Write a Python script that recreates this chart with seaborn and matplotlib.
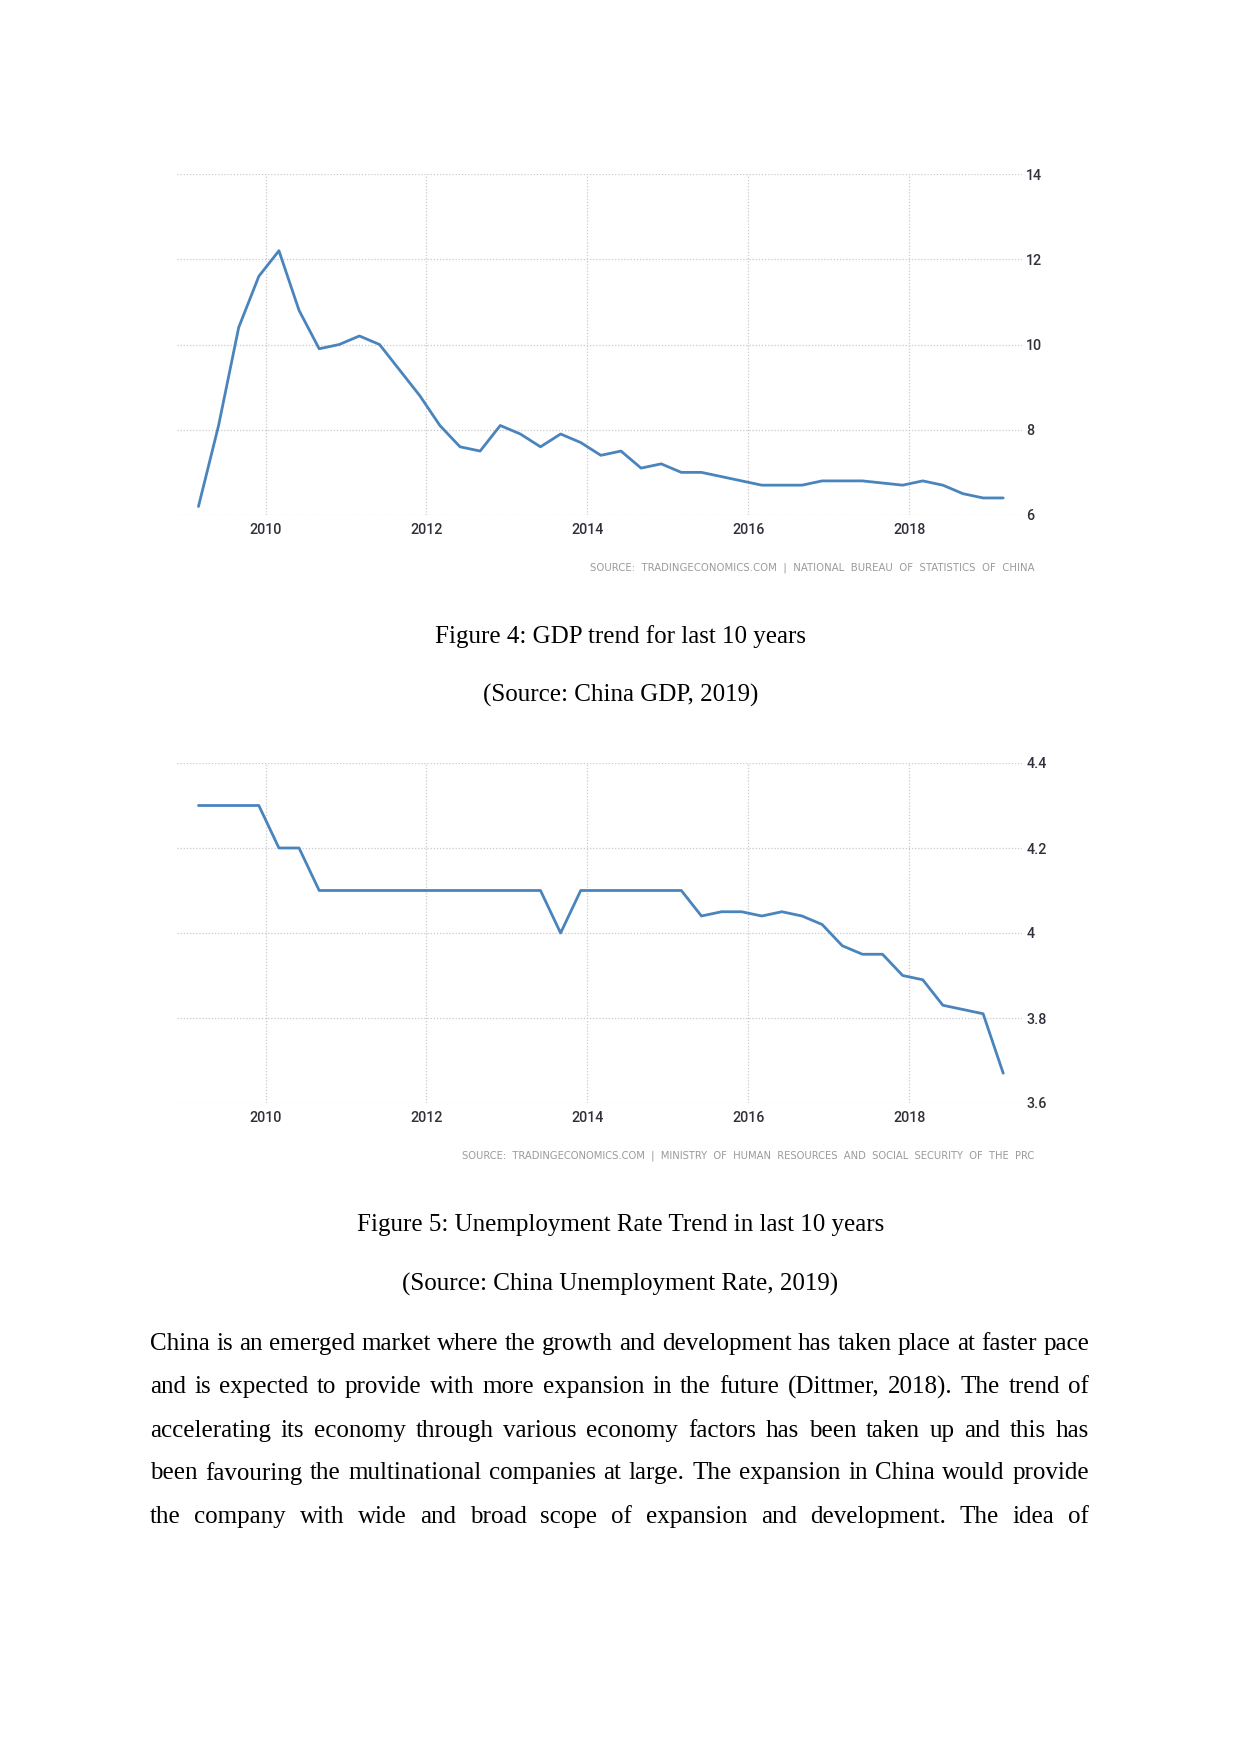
import numpy as np
import pandas as pd
import matplotlib
matplotlib.use("Agg")
import matplotlib.pyplot as plt
import seaborn as sns

# ---------------- data ----------------
quarters = [f"{y}Q{q}" for y in range(2009, 2019) for q in range(1, 5)] + ["2019Q1"]

gdp_growth = [6.2, 8.1, 10.4, 11.6,
              12.2, 10.8, 9.9, 10.0,
              10.2, 10.0, 9.4, 8.8,
              8.1, 7.6, 7.5, 8.1,
              7.9, 7.6, 7.9, 7.7,
              7.4, 7.5, 7.1, 7.2,
              7.0, 7.0, 6.9, 6.8,
              6.7, 6.7, 6.7, 6.8,
              6.8, 6.8, 6.75, 6.7,
              6.8, 6.7, 6.5, 6.4,
              6.4]

unemployment = [4.3, 4.3, 4.3, 4.3,
                4.2, 4.2, 4.1, 4.1,
                4.1, 4.1, 4.1, 4.1,
                4.1, 4.1, 4.1, 4.1,
                4.1, 4.1, 4.0, 4.1,
                4.1, 4.1, 4.1, 4.1,
                4.1, 4.04, 4.05, 4.05,
                4.04, 4.05, 4.04, 4.02,
                3.97, 3.95, 3.95, 3.90,
                3.89, 3.83, 3.82, 3.81,
                3.67]

year_ticks = [2010, 2012, 2014, 2016, 2018]
gdp_ticks = [6, 8, 10, 12, 14]
unemp_ticks = [3.6, 3.8, 4.0, 4.2, 4.4]

gdp_source = "SOURCE:  TRADINGECONOMICS.COM  |  NATIONAL  BUREAU  OF  STATISTICS  OF  CHINA"
unemp_source = "SOURCE:  TRADINGECONOMICS.COM  |  MINISTRY  OF  HUMAN  RESOURCES  AND  SOCIAL  SECURITY  OF  THE  PRC"

caption4 = "Figure 4: GDP trend for last 10 years"
caption4_src = "(Source: China GDP, 2019)"
caption5 = "Figure 5: Unemployment Rate Trend in last 10 years"
caption5_src = "(Source: China Unemployment Rate, 2019)"

body_lines = [
    "China is an emerged market where the growth and development has taken place at faster pace",
    "and is expected to provide with more expansion in the future (Dittmer, 2018). The trend of",
    "accelerating its economy through various economy factors has been taken up and this has",
    "been favouring the multinational companies at large. The expansion in China would provide",
    "the company with wide and broad scope of expansion and development. The idea of",
]

# quarter -> decimal year (plotted at the last month of each quarter)
def q_to_x(s):
    y, q = s.split("Q")
    return int(y) + (3 * int(q) - 1) / 12.0

xq = [q_to_x(s) for s in quarters]
df_gdp = pd.DataFrame({"t": xq, "v": gdp_growth})
df_un = pd.DataFrame({"t": xq, "v": unemployment})

# ---------------- figure ----------------
sns.set_theme(style="white")
plt.rcParams["font.family"] = ["DejaVu Sans"]

W, H = 1241, 1754
fig = plt.figure(figsize=(W / 100, H / 100), dpi=100)
fig.patch.set_facecolor("white")

LINE_C = "#4a84bd"
GRID_C = "#c9c9c9"
TICK_FONT = ["Roboto", "Liberation Sans", "DejaVu Sans"]
TICK_C = "#30303a"


def px_axes(left, top, right, bottom):
    return fig.add_axes([left / W, 1 - bottom / H, (right - left) / W, (bottom - top) / H])


def style_axes(ax, yticks, ylim):
    ax.set_xlim(2008.90, 2019.40)
    ax.set_ylim(*ylim)
    ax.set_xticks(year_ticks)
    ax.set_xticklabels([str(y) for y in year_ticks])
    ax.set_yticks(yticks)
    ax.set_yticklabels([f"{v:g}" for v in yticks])
    ax.yaxis.tick_right()
    for s in ax.spines.values():
        s.set_visible(False)
    ax.grid(True, linestyle=(0, (1, 1.5)), color=GRID_C, lw=0.9)
    ax.tick_params(axis="both", length=0, colors=TICK_C, labelsize=10.3)
    ax.tick_params(axis="x", pad=5.5)
    ax.tick_params(axis="y", pad=3)
    for lab in ax.get_xticklabels() + ax.get_yticklabels():
        lab.set_family(TICK_FONT)
        lab.set_fontweight("medium")
    ax.set_xlabel("")
    ax.set_ylabel("")
    ax.set_facecolor("white")


ax1 = px_axes(177, 174, 1022, 515)
sns.lineplot(data=df_gdp, x="t", y="v", ax=ax1, color=LINE_C, lw=2.0)
style_axes(ax1, gdp_ticks, (6, 14))
for ln in ax1.get_lines():
    ln.set_solid_joinstyle("round")
    ln.set_solid_capstyle("round")

ax2 = px_axes(177, 763, 1022, 1103)
sns.lineplot(data=df_un, x="t", y="v", ax=ax2, color=LINE_C, lw=2.0)
style_axes(ax2, unemp_ticks, (3.6, 4.4))
for ln in ax2.get_lines():
    ln.set_solid_joinstyle("round")
    ln.set_solid_capstyle("round")

# source lines
fig.text(1034 / W, 1 - 568 / H, gdp_source, ha="right", va="center",
         fontsize=7.3, color="#9a9a9a", family=["DejaVu Sans"])
fig.text(1034 / W, 1 - 1156 / H, unemp_source, ha="right", va="center",
         fontsize=7.2, color="#9a9a9a", family=["DejaVu Sans"])

SERIF = ["Liberation Serif", "DejaVu Serif"]
FS = 18
DY = 3
for txt, y in [(caption4, 633.5), (caption4_src, 692.7), (caption5, 1222), (caption5_src, 1281)]:
    fig.text(620.5 / W, 1 - (y + DY) / H, txt, ha="center", va="center", fontsize=FS,
             color="black", family=SERIF)

# justified body text
fig.canvas.draw()
r = fig.canvas.get_renderer()
left_px, right_px = 150, 1089
body_y = [1340.6, 1384.2, 1427.9, 1470.4, 1514.0]
for line, y in zip(body_lines, body_y):
    words = line.split()
    widths = []
    for w in words:
        t = fig.text(0, 0, w, fontsize=FS, family=SERIF)
        widths.append(t.get_window_extent(renderer=r).width)
        t.remove()
    gap = (right_px - left_px - sum(widths)) / (len(words) - 1)
    x = left_px
    for w, wd in zip(words, widths):
        fig.text(x / W, 1 - (y + DY) / H, w, ha="left", va="center", fontsize=FS,
                 color="black", family=SERIF)
        x += wd + gap

fig.savefig("out.png", dpi=100, facecolor="white")
